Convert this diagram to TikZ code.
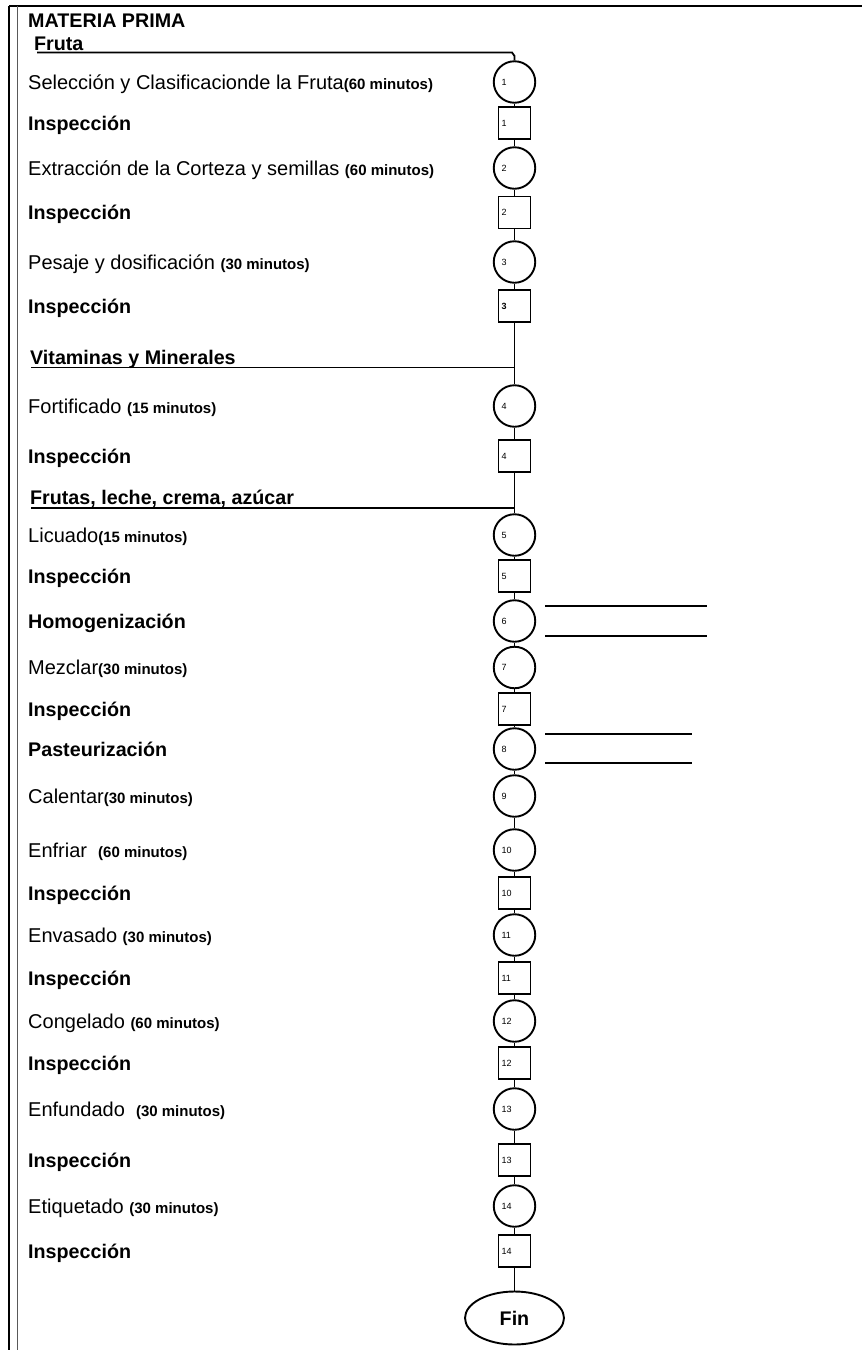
\documentclass[tikz,border=0pt]{standalone}
\usepackage{fontspec}
\setmainfont{Liberation Sans}
\usetikzlibrary{shapes.geometric}

% text sizes used in the chart
\newcommand\txtreg{\fontsize{20}{24}\selectfont}
\newcommand\txtbold{\fontsize{19.7}{24}\selectfont\bfseries}
\newcommand\mins[1]{{\fontsize{15}{18}\selectfont\bfseries #1}}

\tikzset{
  op/.style={circle, draw, line width=1.9pt, minimum size=41.5pt, inner sep=0pt,
    font=\fontsize{9}{10}\selectfont, text width=26pt, align=left},
  insp/.style={rectangle, draw, line width=1.9pt, minimum size=32pt, inner sep=0pt,
    font=\fontsize{9}{10}\selectfont, text width=26pt, align=left},
  fin/.style={ellipse, draw, line width=1.9pt, minimum width=99pt, minimum height=53pt,
    inner sep=0pt, font=\txtbold},
  lbl/.style={anchor=base west, inner sep=0pt, font=\txtreg},
  lblb/.style={anchor=base west, inner sep=0pt, font=\txtbold},
  flow/.style={line width=1.8pt},
  frame/.style={line width=1.8pt},
}

\begin{document}
\begin{tikzpicture}[x=1pt, y=-1pt]
\useasboundingbox (0,0) rectangle (862,1350);

% page frame
\coordinate (ftl) at (9,6);
\coordinate (ftr) at (862,6);
\coordinate (fbl) at (9,1350);
\coordinate (itl) at (17.5,6);
\coordinate (ibl) at (17.5,1350);
\draw[line width=2.6pt] (ftl) -- (ftr);
\draw[frame] (ftl) -- (fbl);
\draw[frame, black!65] (itl) -- (ibl);

% headings
\node[lblb] (mp) at (28,27.5) {MATERIA PRIMA};
\node[lblb] (fr) at (34,50) {Fruta};

% process symbols on the main line
\def\mx{514.5}
\node[op]   (c1)  at (\mx,82)    {1};
\node[insp] (s1)  at (\mx,123)   {1};
\node[op]   (c2)  at (\mx,168)   {2};
\node[insp] (s2)  at (\mx,212.5) {2};
\node[op]   (c3)  at (\mx,262)   {3};
\node[insp] (s3)  at (\mx,306)   {\textbf{3}};
\node[op]   (c4)  at (\mx,406)   {4};
\node[insp] (s4)  at (\mx,456)   {4};
\node[op]   (c5)  at (\mx,535)   {5};
\node[insp] (s5)  at (\mx,576)   {5};
\node[op]   (c6)  at (\mx,621)   {6};
\node[op]   (c7)  at (\mx,667.5) {7};
\node[insp] (s7)  at (\mx,709)   {7};
\node[op]   (c8)  at (\mx,749)   {8};
\node[op]   (c9)  at (\mx,796)   {9};
\node[op]   (c10) at (\mx,850)   {10};
\node[insp] (s10) at (\mx,893)   {10};
\node[op]   (c11) at (\mx,935)   {11};
\node[insp] (s11) at (\mx,978)   {11};
\node[op]   (c12) at (\mx,1021)  {12};
\node[insp] (s12) at (\mx,1063)  {12};
\node[op]   (c13) at (\mx,1109)  {13};
\node[insp] (s13) at (\mx,1160)  {13};
\node[op]   (c14) at (\mx,1206)  {14};
\node[insp] (s14) at (\mx,1251)  {14};
\node[fin]  (fin) at (\mx,1318)  {Fin};

% step descriptions
\node[lbl]  (t1)  at (28,89.2)   {Selección y Clasificacionde la Fruta\mins{(60 minutos)}};
\node[lblb] (i1)  at (28,130.2)  {Inspección};
\node[lbl]  (t2)  at (28,175.2)  {Extracción de la Corteza y semillas \mins{(60 minutos)}};
\node[lblb] (i2)  at (28,219.7)  {Inspección};
\node[lbl]  (t3)  at (28,269.2)  {Pesaje y dosificación \mins{(30 minutos)}};
\node[lblb] (i3)  at (28,313.2)  {Inspección};
\node[lblb] (vm)  at (30,364)    {Vitaminas y Minerales};
\node[lbl]  (t4)  at (28,413.2)  {Fortificado \mins{(15 minutos)}};
\node[lblb] (i4)  at (28,463.2)  {Inspección};
\node[lblb] (fl)  at (30,504.5)  {Frutas, leche, crema, azúcar};
\node[lbl]  (t5)  at (28,542.2)  {Licuado\mins{(15 minutos)}};
\node[lblb] (i5)  at (28,583.2)  {Inspección};
\node[lblb] (t6)  at (28,628.2)  {Homogenización};
\node[lbl]  (t7)  at (28,674.7)  {Mezclar\mins{(30 minutos)}};
\node[lblb] (i7)  at (28,716.2)  {Inspección};
\node[lblb] (t8)  at (28,756.2)  {Pasteurización};
\node[lbl]  (t9)  at (28,803.2)  {Calentar\mins{(30 minutos)}};
\node[lbl]  (t10) at (28,857.2)  {Enfriar \ \mins{(60 minutos)}};
\node[lblb] (i10) at (28,900.2)  {Inspección};
\node[lbl]  (t11) at (28,942.2)  {Envasado \mins{(30 minutos)}};
\node[lblb] (i11) at (28,985.2)  {Inspección};
\node[lbl]  (t12) at (28,1028.2) {Congelado \mins{(60 minutos)}};
\node[lblb] (i12) at (28,1070.2) {Inspección};
\node[lbl]  (t13) at (28,1116.2) {Enfundado \ \mins{(30 minutos)}};
\node[lblb] (i13) at (28,1167.2) {Inspección};
\node[lbl]  (t14) at (28,1213.2) {Etiquetado \mins{(30 minutos)}};
\node[lblb] (i14) at (28,1258.2) {Inspección};

% feed lines joining the main line
\coordinate (fa) at (37,52.5);
\coordinate (fb) at (512,52.5);
\coordinate (fc) at (\mx,56);
\coordinate (va) at (31,367.5);
\coordinate (vj) at (\mx,367.5);
\coordinate (la) at (31,508);
\coordinate (lj) at (\mx,508);
\draw[flow] (fa) -- (fb) -- (fc) -- (c1);
\draw[flow] (va) -- (vj);
\draw[flow] (la) -- (lj);

% main flow line
\draw[flow] (c1) -- (s1) -- (c2) -- (s2) -- (c3) -- (s3) -- (vj) -- (c4) -- (s4)
  -- (lj) -- (c5) -- (s5) -- (c6) -- (c7) -- (s7) -- (c8) -- (c9) -- (c10) -- (s10)
  -- (c11) -- (s11) -- (c12) -- (s12) -- (c13) -- (s13) -- (c14) -- (s14) -- (fin);

% blank lines beside operations 6 and 8
\coordinate (h6a) at (545,605.7);
\coordinate (h6b) at (706.7,605.7);
\coordinate (h6c) at (545,636);
\coordinate (h6d) at (706.7,636);
\coordinate (h8a) at (545,734.3);
\coordinate (h8b) at (691.7,734.3);
\coordinate (h8c) at (545,763.3);
\coordinate (h8d) at (691.7,763.3);
\draw[flow] (h6a) -- (h6b);
\draw[flow] (h6c) -- (h6d);
\draw[flow] (h8a) -- (h8b);
\draw[flow] (h8c) -- (h8d);
\end{tikzpicture}
\end{document}
